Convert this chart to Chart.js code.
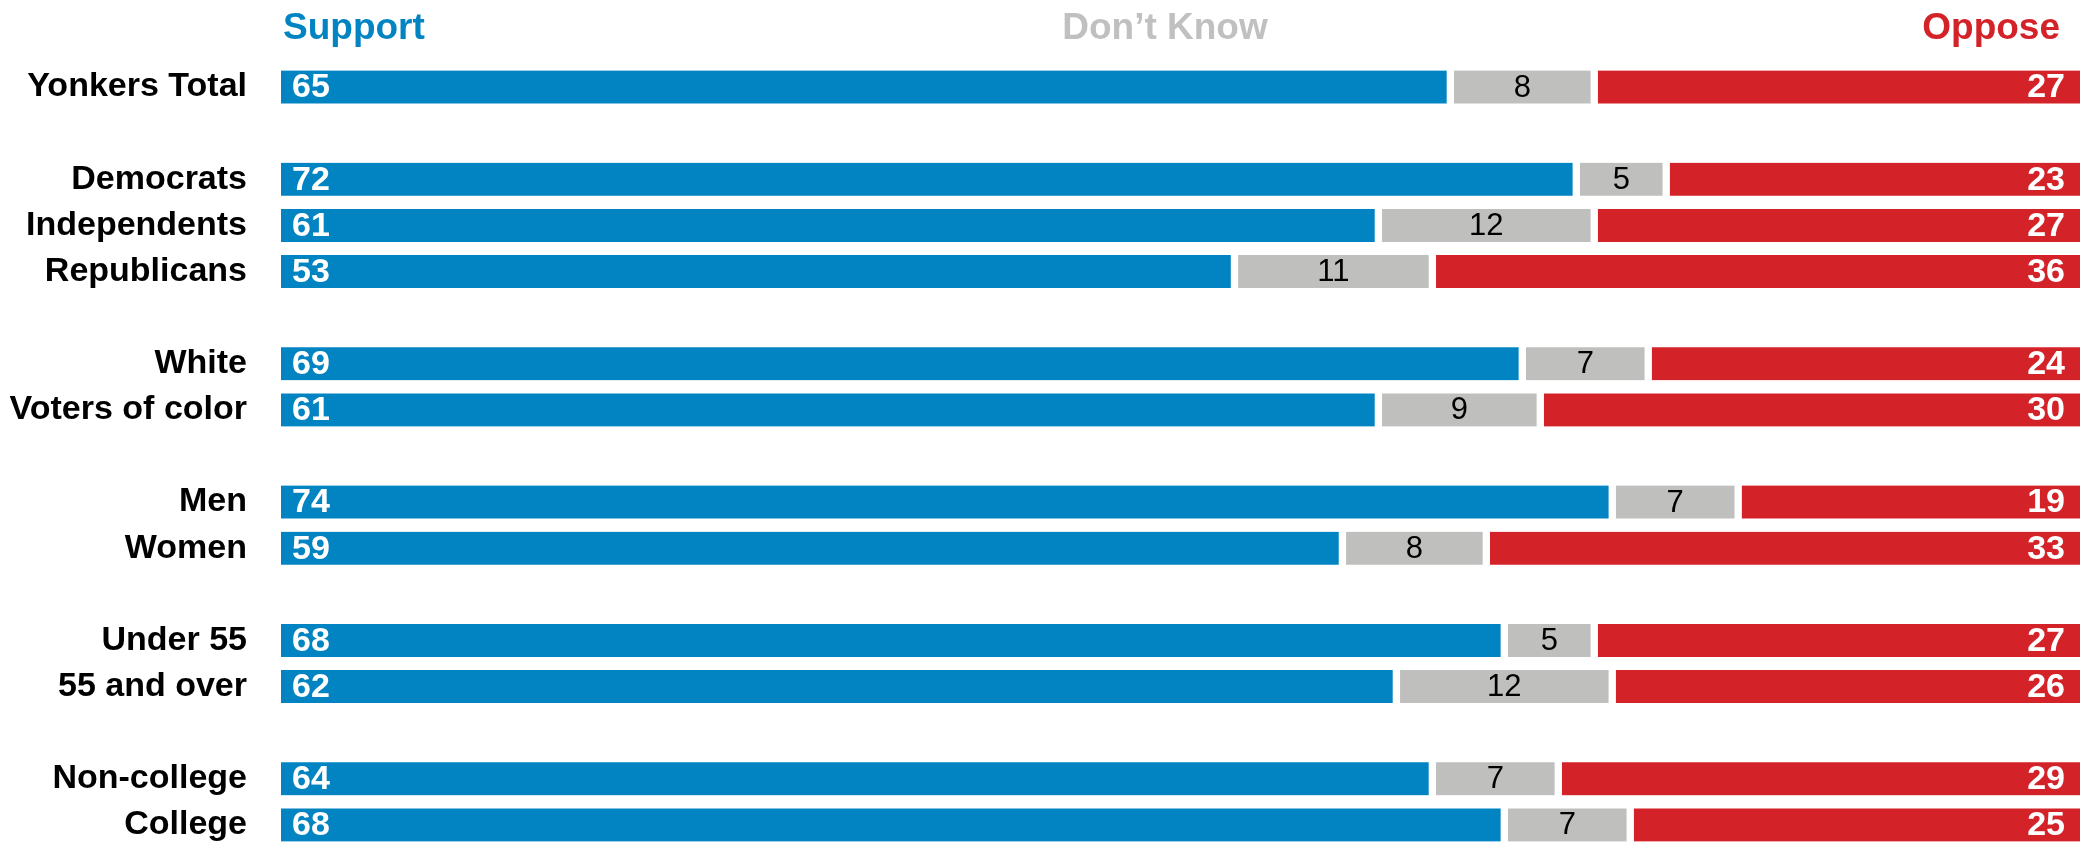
<!DOCTYPE html>
<html lang="en">
<head>
	<meta charset="UTF-8">
	<title>Yonkers - Support / Don't Know / Oppose</title>
	<style>
	*{
		margin: 0;
		padding: 0;
		box-sizing: border-box;
	}
	body{
		background: #fff;
	}
	.chartbox{
		width: 2088px;
		height: 848px;
	}
	</style>
</head>
<body>
	<div class="chartbox">
		<canvas id="myChart" width="2088" height="848"></canvas>
	</div>

<script src="https://cdn.jsdelivr.net/npm/chart.js"></script>

<script>
// rows ('' = spacer row between groups)
const categories = ['Yonkers Total', '', 'Democrats', 'Independents', 'Republicans', '', 'White', 'Voters of color', '', 'Men', 'Women', '', 'Under 55', '55 and over', '', 'Non-college', 'College'];
const supportData  = [65, null, 72, 61, 53, null, 69, 61, null, 74, 59, null, 68, 62, null, 64, 68];
const dontKnowData = [8,  null, 5,  12, 11, null, 7,  9,  null, 7,  8,  null, 5,  12, null, 7,  7];
const opposeData   = [27, null, 23, 27, 36, null, 24, 30, null, 19, 33, null, 27, 26, null, 29, 25];
const headers = ['Support', 'Don\u2019t Know', 'Oppose'];

const BLUE = '#0284C2';
const GRAY = '#BFBFBD';
const RED = '#D42229';
const FONT = '"Liberation Sans", Arial, sans-serif';

//Setup block
const data = {
	labels: categories,
	datasets: [
		{label: headers[0], data: supportData, backgroundColor: BLUE, borderColor: '#fff', borderWidth: {right: 4}, borderSkipped: false},
		{label: headers[1], data: dontKnowData, backgroundColor: GRAY, borderColor: '#fff', borderWidth: {left: 4, right: 4}, borderSkipped: false},
		{label: headers[2], data: opposeData, backgroundColor: RED, borderColor: '#fff', borderWidth: {left: 4}, borderSkipped: false}
	]
};

// value labels inside the bars + column headers
const barLabels = {
	id: 'barLabels',
	afterDatasetsDraw(chart){
		const ctx = chart.ctx;
		ctx.save();
		ctx.textBaseline = 'middle';
		chart.data.datasets.forEach((ds, i) => {
			const meta = chart.getDatasetMeta(i);
			meta.data.forEach((bar, j) => {
				const v = ds.data[j];
				if(v === null || v === undefined) return;
				const p = bar.getProps(['x', 'y', 'base'], true);
				if(i === 0){
					ctx.font = 'bold 34px ' + FONT;
					ctx.fillStyle = '#fff';
					ctx.textAlign = 'left';
					ctx.fillText(v, p.base + 11, p.y + 1);
				}
				if(i === 1){
					ctx.font = '31px ' + FONT;
					ctx.fillStyle = '#000';
					ctx.textAlign = 'center';
					ctx.fillText(v, (p.base + p.x) / 2, p.y + 1);
				}
				if(i === 2){
					ctx.font = 'bold 34px ' + FONT;
					ctx.fillStyle = '#fff';
					ctx.textAlign = 'right';
					ctx.fillText(v, p.x - 15, p.y + 1);
				}
			});
		});

		// headers
		const area = chart.chartArea;
		ctx.textBaseline = 'alphabetic';
		ctx.font = 'bold 37px ' + FONT;
		ctx.fillStyle = BLUE;
		ctx.textAlign = 'left';
		ctx.fillText(headers[0], area.left + 2, 39);
		ctx.fillStyle = '#C0C0C0';
		ctx.textAlign = 'center';
		ctx.fillText(headers[1], 1165, 39);
		ctx.fillStyle = RED;
		ctx.textAlign = 'right';
		ctx.fillText(headers[2], area.right - 20, 39);
		ctx.restore();
	}
};

//Config block
const config = {
	type: 'bar',
	data,
	options: {
		indexAxis: 'y',
		responsive: false,
		animation: false,
		layout: {
			padding: {top: 64, right: 8, bottom: 0, left: 0}
		},
		plugins: {
			legend: {display: false},
			tooltip: {enabled: false}
		},
		datasets: {
			bar: {
				barThickness: 33
			}
		},
		scales: {
			x: {
				stacked: true,
				display: false,
				min: 0,
				max: 100
			},
			y: {
				stacked: true,
				grid: {display: false, drawTicks: false},
				border: {display: false},
				ticks: {
					color: '#000',
					padding: 34,
					font: {family: FONT, size: 34, weight: 'bold'}
				},
				afterFit(scale){
					scale.width = 281;
					// don't let the label padding eat the top/bottom rows
					scale.paddingTop = 0;
					scale.paddingBottom = 0;
				}
			}
		}
	},
	plugins: [barLabels]
};

//Init Render block
const myChart = new Chart(
	document.getElementById('myChart'),
	config
);
</script>
</body>
</html>
